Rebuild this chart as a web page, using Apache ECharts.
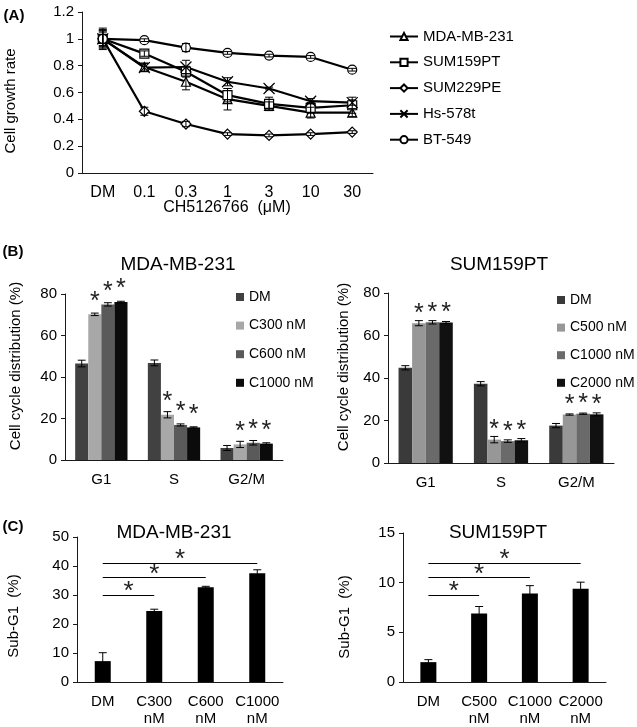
<!DOCTYPE html>
<html>
<head>
<meta charset="utf-8">
<script src="https://cdn.jsdelivr.net/npm/echarts@6/dist/echarts.min.js"></script>
<style>html,body{margin:0;padding:0;background:#fff}#c{width:637px;height:727px}</style>
</head>
<body>
<div id="c"></div>
<script>
// ---------- Panel A: growth curves ----------
const doseLabels = ['DM', '0.1', '0.3', '1', '3', '10', '30'];
const lineNames = ['MDA-MB-231', 'SUM159PT', 'SUM229PE', 'Hs-578t', 'BT-549'];
const mdaGrowth = [1.0, 0.79, 0.68, 0.55, 0.50, 0.45, 0.45];
const mdaGrowthErr = [0.07, 0.03, 0.06, 0.08, 0.03, 0.04, 0.03];
const sum159Growth = [1.0, 0.89, 0.755, 0.58, 0.515, 0.485, 0.505];
const sum159GrowthErr = [0.05, 0.02, 0.04, 0.05, 0.05, 0.04, 0.06];
const sum229Growth = [1.0, 0.46, 0.365, 0.29, 0.28, 0.29, 0.305];
const sum229GrowthErr = [0.06, 0.03, 0.02, 0.01, 0.01, 0.01, 0.01];
const hsGrowth = [1.0, 0.785, 0.79, 0.68, 0.63, 0.535, 0.525];
const hsGrowthErr = [0.06, 0.03, 0.05, 0.03, 0.01, 0.02, 0.02];
const btGrowth = [1.0, 0.99, 0.935, 0.895, 0.875, 0.865, 0.77];
const btGrowthErr = [0.08, 0.01, 0.03, 0.01, 0.01, 0.01, 0.01];

// ---------- Panel B: cell cycle ----------
const phases = ['G1', 'S', 'G2/M'];
const mdaCycleNames = ['DM', 'C300 nM', 'C600 nM', 'C1000 nM'];
const mdaCycleDM = [46.5, 46.8, 5.8];
const mdaCycleDMErr = [1.6, 1.4, 1.2];
const mdaCycleC300 = [70.2, 21.8, 7.5];
const mdaCycleC300Err = [0.6, 1.5, 1.5];
const mdaCycleC600 = [75.0, 16.9, 8.3];
const mdaCycleC600Err = [0.8, 0.5, 1.1];
const mdaCycleC1000 = [76.1, 15.7, 7.9];
const mdaCycleC1000Err = [0.4, 0.3, 0.4];

const sumCycleNames = ['DM', 'C500 nM', 'C1000 nM', 'C2000 nM'];
const sumCycleDM = [44.8, 37.3, 17.6];
const sumCycleDMErr = [1.0, 1.0, 1.0];
const sumCycleC500 = [65.8, 11.0, 22.8];
const sumCycleC500Err = [1.2, 1.5, 0.3];
const sumCycleC1000 = [66.2, 10.3, 23.2];
const sumCycleC1000Err = [0.8, 0.6, 0.3];
const sumCycleC2000 = [66.1, 10.7, 22.9];
const sumCycleC2000Err = [0.5, 0.8, 0.7];

// ---------- Panel C: Sub-G1 ----------
const mdaSubCats = ['DM', 'C300\nnM', 'C600\nnM', 'C1000\nnM'];
const mdaSubG1 = [7.2, 24.5, 32.7, 37.5];
const mdaSubG1Err = [2.9, 0.6, 0.3, 1.2];
const mdaSigTo = [1, 2, 3];
const mdaSigY = [30, 36, 41];

const sumSubCats = ['DM', 'C500\nnM', 'C1000\nnM', 'C2000\nnM'];
const sumSubG1 = [2.0, 6.9, 8.9, 9.4];
const sumSubG1Err = [0.25, 0.7, 0.8, 0.65];
const sumSigTo = [1, 2, 3];
const sumSigY = [8.75, 10.5, 12];

// ---------- build ----------
const FONT = 'Liberation Sans, Arial, sans-serif';
const AX = '#1a1a1a';

function capLines(x, yHi, yLo, w) {
  const st = { stroke: '#000', lineWidth: 1 };
  return [
    { type: 'line', shape: { x1: x, y1: yHi, x2: x, y2: yLo }, style: st },
    { type: 'line', shape: { x1: x - w, y1: yHi, x2: x + w, y2: yHi }, style: st },
    { type: 'line', shape: { x1: x - w, y1: yLo, x2: x + w, y2: yLo }, style: st }
  ];
}
function lineErr(params, api) {
  const x = api.value(0), y = api.value(1), e = api.value(2);
  const hi = api.coord([x, y + e]), lo = api.coord([x, y - e]);
  return { type: 'group', children: capLines(hi[0], hi[1], lo[1], 4) };
}
function barErr(n, gap) {
  return function (params, api) {
    const ci = api.value(0), si = api.value(1), v = api.value(2), e = api.value(3);
    const band = api.size([1, 0])[0];
    const group = band * (1 - gap);
    const bw = group / n;
    const c = api.coord([ci, v]);
    const x = c[0] - group / 2 + bw * (si + 0.5);
    const hi = api.coord([ci, v + e])[1], lo = api.coord([ci, v - e])[1];
    return { type: 'group', children: capLines(x, hi, lo, Math.min(4, bw * 0.3)) };
  };
}

const grids = [
  { left: 82, top: 12, width: 291, height: 161 },
  { left: 65, top: 294, width: 218, height: 166 },
  { left: 388, top: 293, width: 226, height: 170 },
  { left: 77, top: 537, width: 206, height: 146 },
  { left: 403, top: 533, width: 203, height: 149 }
];

function xCat(gi, data, fs, margin) {
  return {
    type: 'category', gridIndex: gi, data: data, boundaryGap: true,
    axisLine: { lineStyle: { color: AX, width: 1 } }, axisTick: { show: false },
    axisLabel: { color: '#000', fontSize: fs, margin: margin, lineHeight: 17, fontFamily: FONT, interval: 0 },
    splitLine: { show: false }
  };
}
function yVal(gi, max, interval, fs) {
  return {
    type: 'value', gridIndex: gi, min: 0, max: max, interval: interval,
    axisLine: { show: true, lineStyle: { color: AX, width: 1 } },
    axisTick: { show: true, length: 4, lineStyle: { color: AX } },
    axisLabel: { color: '#000', fontSize: fs, margin: 8, fontFamily: FONT },
    splitLine: { show: false }
  };
}

const lineSets = [
  { v: mdaGrowth, e: mdaGrowthErr, sym: 'triangle', size: 9 },
  { v: sum159Growth, e: sum159GrowthErr, sym: 'rect', size: 9 },
  { v: sum229Growth, e: sum229GrowthErr, sym: 'diamond', size: 10 },
  { v: hsGrowth, e: hsGrowthErr, sym: 'path://M0,0L10,10M10,0L0,10', size: 11 },
  { v: btGrowth, e: btGrowthErr, sym: 'circle', size: 9 }
];

const series = [];
lineSets.forEach((s, i) => {
  series.push({
    type: 'line', name: lineNames[i], xAxisIndex: 0, yAxisIndex: 0,
    data: s.v, symbol: s.sym, symbolSize: s.size, showAllSymbol: true,
    lineStyle: { color: '#000', width: 2.2 },
    itemStyle: { color: '#fff', borderColor: '#000', borderWidth: 1.2 },
    z: 3, animation: false
  });
});
lineSets.forEach((s, i) => {
  series.push({
    type: 'custom', xAxisIndex: 0, yAxisIndex: 0, renderItem: lineErr,
    data: s.v.map((v, k) => [k, v, s.e[k]]), encode: { x: 0, y: 1 }, z: 4, silent: true, animation: false
  });
});

function cycleBars(gi, names, vals, errs, colors, starDist) {
  vals.forEach((v, i) => {
    series.push({
      type: 'bar', name: names[i], xAxisIndex: gi, yAxisIndex: gi, data: v,
      barGap: '0%', barCategoryGap: '28%',
      itemStyle: { color: colors[i] },
      label: { show: i > 0, position: 'top', distance: starDist, formatter: '*', fontSize: 25, color: '#222', fontFamily: FONT },
      animation: false
    });
  });
  const d = [];
  vals.forEach((v, si) => v.forEach((val, ci) => d.push([ci, si, val, errs[si][ci]])));
  series.push({
    type: 'custom', xAxisIndex: gi, yAxisIndex: gi, renderItem: barErr(vals.length, 0.28),
    data: d, encode: { x: 0, y: 2 }, z: 5, silent: true, animation: false
  });
}
cycleBars(1, mdaCycleNames, [mdaCycleDM, mdaCycleC300, mdaCycleC600, mdaCycleC1000],
  [mdaCycleDMErr, mdaCycleC300Err, mdaCycleC600Err, mdaCycleC1000Err],
  ['#414141', '#a8a8a8', '#5a5a5a', '#0b0b0b'], 0);
const sumLegendNames = sumCycleNames.map(n => n + ' ');
cycleBars(2, sumLegendNames, [sumCycleDM, sumCycleC500, sumCycleC1000, sumCycleC2000],
  [sumCycleDMErr, sumCycleC500Err, sumCycleC1000Err, sumCycleC2000Err],
  ['#3a3a3a', '#979797', '#6a6a6a', '#111111'], -3);

function subBars(gi, cats, vals, errs, sigTo, sigY) {
  series.push({
    type: 'bar', xAxisIndex: gi, yAxisIndex: gi, data: vals, barWidth: 16,
    itemStyle: { color: '#000' }, animation: false,
    markLine: {
      silent: true, symbol: 'none', animation: false,
      lineStyle: { color: '#000', width: 1, type: 'solid' },
      label: { show: true, position: 'middle', formatter: '*', fontSize: 26, color: '#222', distance: -10, fontFamily: FONT },
      data: sigTo.map((t, k) => [{ coord: [cats[0], sigY[k]] }, { coord: [cats[t], sigY[k]] }])
    }
  });
  series.push({
    type: 'custom', xAxisIndex: gi, yAxisIndex: gi, renderItem: barErr(1, 0.69),
    data: vals.map((v, k) => [k, 0, v, errs[k]]), encode: { x: 0, y: 2 }, z: 5, silent: true, animation: false
  });
}
subBars(3, mdaSubCats, mdaSubG1, mdaSubG1Err, mdaSigTo, mdaSigY);
subBars(4, sumSubCats, sumSubG1, sumSubG1Err, sumSigTo, sumSigY);

function txt(x, y, s, size, opts) {
  return Object.assign({
    type: 'text', x: x, y: y,
    style: { text: s, fill: '#000', font: (opts && opts.bold ? 'bold ' : '') + size + 'px ' + FONT, textAlign: 'center', textVerticalAlign: 'middle' }
  }, opts && opts.rot ? { rotation: Math.PI / 2 } : {});
}

const option = {
  animation: false,
  textStyle: { fontFamily: FONT },
  grid: grids,
  xAxis: [
    xCat(0, doseLabels, 16, 11),
    xCat(1, phases, 15, 11),
    xCat(2, phases, 15, 11),
    xCat(3, mdaSubCats, 15, 11),
    xCat(4, sumSubCats, 15, 11)
  ],
  yAxis: [
    yVal(0, 1.2, 0.2, 15),
    yVal(1, 80, 20, 15),
    yVal(2, 80, 20, 15),
    yVal(3, 50, 10, 15),
    yVal(4, 15, 5, 15)
  ],
  legend: [
    { orient: 'vertical', left: 389, top: 29, padding: 0, itemWidth: 28, itemHeight: 9, itemGap: 10.8,
      data: lineNames, textStyle: { fontSize: 15, color: '#000', fontFamily: FONT } },
    { orient: 'vertical', left: 236, top: 290, padding: 0, itemWidth: 8, itemHeight: 8, itemGap: 14.6, icon: 'rect',
      data: mdaCycleNames, textStyle: { fontSize: 14, color: '#000', fontFamily: FONT } },
    { orient: 'vertical', left: 557, top: 293, padding: 0, itemWidth: 8, itemHeight: 8, itemGap: 13.6, icon: 'rect',
      data: sumLegendNames, textStyle: { fontSize: 14, color: '#000', fontFamily: FONT } }
  ],
  graphic: [
    txt(14, 16, '(A)', 15, { bold: true }),
    txt(13, 252, '(B)', 15, { bold: true }),
    txt(13, 527, '(C)', 15, { bold: true }),
    txt(11, 101, 'Cell growth rate', 15, { rot: true }),
    txt(227, 208, 'CH5126766  (\u03bcM)', 16),
    txt(178, 265, 'MDA-MB-231', 19),
    txt(499, 265, 'SUM159PT', 19),
    txt(16, 366, 'Cell cycle distribution (%)', 15, { rot: true }),
    txt(344, 367, 'Cell cycle distribution (%)', 15, { rot: true }),
    txt(174, 533, 'MDA-MB-231', 19),
    txt(498, 533, 'SUM159PT', 19),
    txt(14, 616, 'Sub-G1  (%)', 15, { rot: true }),
    txt(345, 617, 'Sub-G1  (%)', 15, { rot: true })
  ],
  series: series
};

const chart = echarts.init(document.getElementById('c'), null, { renderer: 'canvas' });
chart.setOption(option);
</script>
</body>
</html>
